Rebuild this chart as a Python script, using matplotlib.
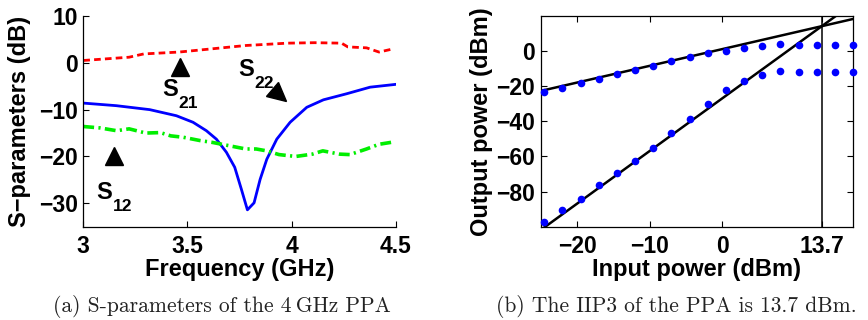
import numpy as np
import matplotlib
matplotlib.use("Agg")
import matplotlib.pyplot as plt
from matplotlib.markers import MarkerStyle
from matplotlib.transforms import Affine2D

plt.rcParams['font.family'] = ['Liberation Sans', 'DejaVu Sans']
plt.rcParams['font.weight'] = 'bold'

# ---- (a) S-parameters ----
s21_freq = [3.00, 3.22, 3.29, 3.46, 3.62, 3.78, 3.98, 4.11, 4.24, 4.27, 4.36, 4.42, 4.49]
s21_db = [0.5, 1.2, 1.9, 2.3, 3.0, 3.7, 4.2, 4.3, 4.2, 3.4, 3.2, 2.3, 3.0]

s22_freq = [3.000, 3.158, 3.319, 3.447, 3.527, 3.591, 3.639, 3.687, 3.727, 3.759,
            3.788, 3.820, 3.849, 3.881, 3.929, 3.993, 4.073, 4.153, 4.265, 4.377, 4.500]
s22_db = [-8.6, -9.15, -10.0, -11.3, -12.7, -14.5, -16.3, -19.1, -22.3, -27.0,
          -31.4, -29.9, -24.9, -20.6, -16.3, -12.7, -9.5, -7.9, -6.6, -5.2, -4.6]

s12_freq = [3.00, 3.08, 3.16, 3.22, 3.30, 3.37, 3.42, 3.48, 3.56, 3.62, 3.70, 3.78,
            3.83, 3.88, 3.94, 4.02, 4.10, 4.15, 4.23, 4.28, 4.36, 4.42, 4.49]
s12_db = [-13.6, -13.9, -14.5, -14.1, -15.0, -14.9, -15.6, -15.9, -16.6, -17.0, -17.7,
          -18.4, -18.4, -18.8, -19.6, -20.0, -19.5, -18.8, -19.5, -19.6, -18.4, -17.4, -16.9]

freq_ticks = [3, 3.5, 4, 4.5]
freq_ticklabels = ['3', '3.5', '4', '4.5']
sparam_ticks = [10, 0, -10, -20, -30]

# ---- (b) two-tone linearity ----
pin_dbm = [-24.5 + 2.5 * k for k in range(18)]
fund_dbm = [-23.1, -20.8, -18.4, -15.7, -13.3, -10.8, -8.3, -5.9, -3.6, -1.3,
            0.2, 1.7, 3.0, 4.2, 3.4, 3.4, 3.4, 3.4]
im3_dbm = [-97.2, -90.5, -84.5, -76.3, -69.3, -62.5, -54.9, -46.4, -38.6, -30.3,
           -22.2, -17.0, -13.8, -11.6, -11.9, -11.9, -11.9, -11.9]
iip3_dbm = 13.7
oip3_dbm = 14.2
fund_slope = 0.953
im3_slope = 3.0
pin_ticks = [-20, -10, 0, 13.7]
pin_ticklabels = ['\u221220', '\u221210', '0', '13.7']
pout_ticks = [0, -20, -40, -60, -80]

fig = plt.figure(figsize=(8.68, 3.2), dpi=100)
W, H = 868.0, 320.0
ax1 = fig.add_axes([83.3 / W, 1 - 226.7 / H, 312.4 / W, 210.7 / H])
ax2 = fig.add_axes([540.7 / W, 1 - 226.7 / H, 312.3 / W, 210.7 / H])

tick_fs = 16.5
label_fs = 17

# (a)
ax1.plot(s21_freq, s21_db, color='#ff0000', lw=2.0, dashes=(2.4, 1.5))
ax1.plot(s22_freq, s22_db, color='#0000ff', lw=2.0)
ax1.plot(s12_freq, s12_db, color='#00ee00', lw=2.6, dashes=(3.0, 1.2, 0.6, 1.2))
ax1.set_xlim(3, 4.5)
ax1.set_ylim(-35, 10)
ax1.set_xticks(freq_ticks)
ax1.set_xticklabels(freq_ticklabels)
ax1.set_yticks(sparam_ticks)
for s in ['top', 'right']:
    ax1.spines[s].set_visible(False)
ax1.tick_params(direction='in', length=4, width=0.8, labelsize=tick_fs)
ax1.tick_params(axis='x', pad=6)
ax1.tick_params(axis='y', pad=4)
ax1.set_xlabel('Frequency (GHz)', fontsize=label_fs, fontweight='bold')
ax1.set_ylabel('S\u2212parameters (dB)', fontsize=label_fs, fontweight='bold')
ax1.xaxis.set_label_coords(0.5, -0.205)
ax1.xaxis.label.set_va('center')
ax1.yaxis.set_label_coords(-0.203, 0.5)
ax1.yaxis.label.set_va('center')

# annotation heads and labels
ax1.plot([3.464], [-0.9], marker='^', ms=13, color='black', ls='none')
ax1.plot([3.147], [-19.9], marker='^', ms=13, color='black', ls='none')
ax1.plot([3.94], [-6.8], marker=MarkerStyle('^', transform=Affine2D().rotate_deg(-130)),
         ms=13, color='black', ls='none')


def slabel(ax, x, y, sub):
    ax.text(x, y, 'S', fontsize=17, fontweight='bold', ha='left', va='baseline')
    ax.annotate(sub, xy=(x, y), xytext=(11.5, -8.5), textcoords='offset points',
                fontsize=12.5, fontweight='bold', ha='left', va='baseline')


slabel(ax1, 3.379, -7.1, '21')
slabel(ax1, 3.745, -2.85, '22')
slabel(ax1, 3.064, -29.1, '12')

# (b)
xs = np.array([-25, 18])
ax2.plot(xs, oip3_dbm + fund_slope * (xs - iip3_dbm), color='black', lw=1.8)
ax2.plot(xs, oip3_dbm + im3_slope * (xs - iip3_dbm), color='black', lw=1.8)
ax2.axvline(iip3_dbm, color='black', lw=1.1)
ax2.plot(pin_dbm, fund_dbm, 'o', color='#0000ff', ms=5.5, mec='none', clip_on=False, zorder=3)
ax2.plot(pin_dbm, im3_dbm, 'o', color='#0000ff', ms=5.5, mec='none', clip_on=False, zorder=3)
ax2.set_xlim(-25, 18)
ax2.set_ylim(-100, 20)
ax2.set_xticks(pin_ticks)
ax2.set_xticklabels(pin_ticklabels)
ax2.set_yticks(pout_ticks)
ax2.tick_params(direction='in', length=4, width=0.8, labelsize=tick_fs,
                top=True, right=True)
ax2.tick_params(axis='x', pad=6)
ax2.tick_params(axis='y', pad=4)
ax2.set_xlabel('Input power (dBm)', fontsize=label_fs, fontweight='bold')
ax2.set_ylabel('Output power (dBm)', fontsize=label_fs, fontweight='bold')
ax2.xaxis.set_label_coords(0.5, -0.205)
ax2.xaxis.label.set_va('center')
ax2.yaxis.set_label_coords(-0.191, 0.5)
ax2.yaxis.label.set_va('center')

for ax in (ax1, ax2):
    for sp in ax.spines.values():
        sp.set_linewidth(0.9)

# captions
cap_family = ['cmr10', 'DejaVu Serif']
fig.text(222 / W, 1 - 306 / H, '(a) S-parameters of the 4\u2009GHz PPA', family=cap_family,
         fontweight='normal', fontsize=15.5, ha='center', va='center', color='#222222')
fig.text(676.5 / W, 1 - 306 / H, '(b) The IIP3 of the PPA is 13.7 dBm.', family=cap_family,
         fontweight='normal', fontsize=15.5, ha='center', va='center', color='#222222')

fig.savefig('out.png', dpi=100)
